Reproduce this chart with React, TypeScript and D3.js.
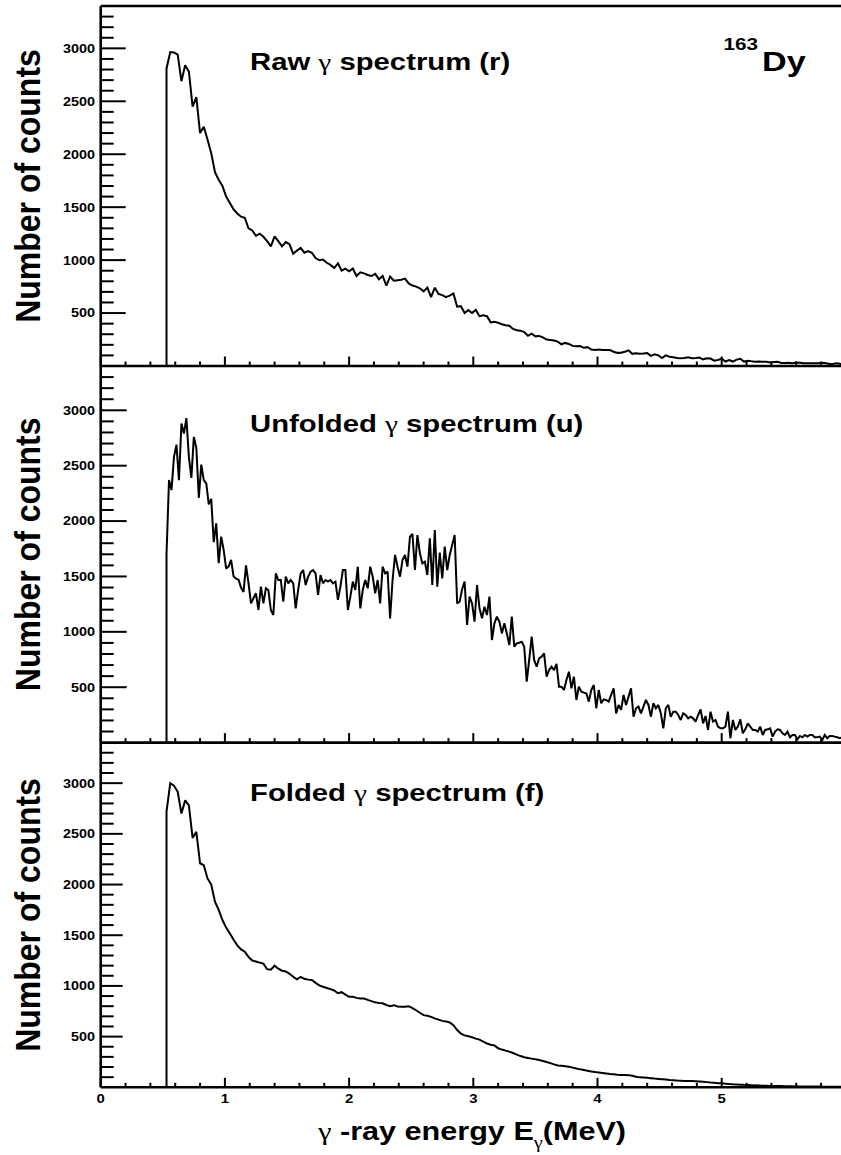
import React from 'react';
import * as d3 from 'd3';

// Energy axis (MeV) and count axis ranges
const E_DOMAIN: [number, number] = [0, 6];
const COUNT_DOMAIN: [number, number] = [0, 3400];
const X_TICK_LABELS = [0, 1, 2, 3, 4, 5, 6];
const Y_TICK_LABELS = [500, 1000, 1500, 2000, 2500, 3000];

// Raw spectrum: bins of 30 keV starting at 0.53 MeV
const RAW_START = 0.53;
const RAW_STEP = 0.03;
const RAW_COUNTS = [
  2810, 2965, 2960, 2940, 2690, 2840, 2780, 2450, 2540, 2200, // 0.53
  2260, 2140, 2010, 1830, 1760, 1700, 1600, 1540, 1480, 1440, // 0.83
  1410, 1400, 1300, 1280, 1230, 1250, 1220, 1180, 1130, 1225, // 1.13
  1180, 1130, 1170, 1150, 1060, 1090, 1115, 1070, 1085, 1070, // 1.43
  1020, 1000, 1005, 975, 955, 925, 970, 900, 920, 895, // 1.73
  920, 850, 885, 875, 860, 850, 870, 820, 850, 760, // 2.03
  845, 805, 810, 815, 825, 780, 760, 750, 734, 705, // 2.33
  740, 650, 740, 680, 670, 650, 665, 685, 560, 565, // 2.63
  500, 528, 500, 530, 470, 478, 470, 412, 418, 408, // 2.93
  395, 385, 380, 350, 338, 334, 320, 285, 305, 280, // 3.23
  284, 270, 250, 246, 240, 230, 205, 218, 208, 190, // 3.53
  186, 189, 172, 178, 155, 152, 155, 151, 150, 150, // 3.83
  135, 124, 125, 135, 148, 115, 120, 116, 118, 122, // 4.13
  96, 110, 100, 75, 100, 88, 82, 76, 74, 75, // 4.43
  82, 74, 76, 80, 63, 72, 70, 50, 57, 70, // 4.73
  42, 55, 42, 60, 68, 42, 50, 44, 41, 42, // 5.03
  40, 41, 33, 38, 40, 28, 28, 31, 26, 33, // 5.33
  30, 25, 25, 25, 25, 27, 30, 25, 20, 22, // 5.63
  25, 18, 16, // 5.93
];

// Unfolded spectrum: bins of 20 keV starting at 0.53 MeV
const UNFOLDED_START = 0.53;
const UNFOLDED_STEP = 0.02;
const UNFOLDED_COUNTS = [
  1700, 2370, 2280, 2580, 2690, 2370, 2880, 2790, 2930, 2580, // 0.53
  2390, 2760, 2660, 2210, 2510, 2370, 2340, 2150, 2200, 1810, // 0.73
  1980, 1620, 1860, 1740, 1570, 1590, 1650, 1500, 1480, 1470, // 0.93
  1400, 1360, 1600, 1440, 1257, 1303, 1348, 1197, 1408, 1257, // 1.13
  1393, 1378, 1197, 1152, 1528, 1468, 1468, 1272, 1498, 1438, // 1.33
  1468, 1438, 1212, 1378, 1528, 1558, 1423, 1498, 1543, 1558, // 1.53
  1528, 1333, 1513, 1438, 1468, 1453, 1468, 1438, 1453, 1288, // 1.73
  1408, 1558, 1558, 1197, 1318, 1453, 1378, 1588, 1212, 1378, // 1.93
  1468, 1393, 1588, 1498, 1348, 1468, 1257, 1588, 1528, 1543, // 2.13
  1122, 1468, 1694, 1588, 1498, 1649, 1694, 1588, 1859, 1883, // 2.33
  1558, 1874, 1709, 1618, 1633, 1513, 1844, 1423, 1919, 1408, // 2.53
  1715, 1483, 1769, 1558, 1694, 1784, 1874, 1257, 1272, 1384, // 2.73
  1453, 1062, 1318, 1257, 1092, 1423, 1212, 1122, 1227, 1152, // 2.93
  1318, 926, 1077, 1137, 1092, 986, 1077, 986, 881, 1137, // 3.13
  866, 896, 902, 911, 866, 550, 746, 956, 746, 685, // 3.33
  761, 776, 806, 595, 655, 685, 655, 710, 505, 505, // 3.53
  475, 565, 640, 490, 595, 385, 505, 460, 451, 445, // 3.73
  370, 475, 520, 310, 475, 355, 390, 385, 370, 430, // 3.93
  490, 264, 340, 295, 430, 340, 415, 490, 234, 310, // 4.13
  325, 264, 325, 385, 340, 234, 355, 310, 340, 264, // 4.33
  129, 310, 340, 234, 279, 279, 249, 204, 264, 249, // 4.53
  219, 234, 219, 189, 249, 300, 174, 240, 114, 279, // 4.73
  189, 204, 144, 129, 129, 144, 279, 39, 204, 114, // 4.93
  144, 210, 84, 120, 174, 144, 114, 114, 99, 144, // 5.13
  69, 114, 120, 129, 54, 99, 120, 114, 84, 69, // 5.33
  99, 48, 69, 69, 30, 60, 48, 69, 54, 69, // 5.53
  69, 48, 48, 54, 24, 69, 39, 60, 60, 54, // 5.73
  48, 39, 48, 45, // 5.93
];

// Folded spectrum: bins of 30 keV starting at 0.53 MeV
const FOLDED_START = 0.53;
const FOLDED_STEP = 0.03;
const FOLDED_COUNTS = [
  2720, 3000, 2975, 2915, 2700, 2830, 2780, 2460, 2520, 2210, // 0.53
  2190, 2060, 2000, 1830, 1750, 1650, 1575, 1518, 1455, 1400, // 0.83
  1360, 1337, 1286, 1250, 1240, 1230, 1220, 1165, 1160, 1200, // 1.13
  1170, 1150, 1142, 1120, 1090, 1065, 1088, 1070, 1062, 1058, // 1.43
  1030, 1005, 992, 980, 968, 955, 928, 938, 915, 892, // 1.73
  892, 882, 876, 876, 862, 850, 838, 831, 828, 812, // 2.03
  800, 810, 797, 794, 794, 800, 782, 760, 735, 712, // 2.33
  705, 695, 680, 668, 655, 650, 640, 613, 565, 530, // 2.63
  512, 503, 494, 480, 470, 450, 432, 420, 412, 385, // 2.93
  372, 362, 352, 338, 322, 308, 296, 290, 283, 276, // 3.23
  270, 260, 250, 238, 226, 216, 212, 207, 202, 194, // 3.53
  185, 177, 170, 163, 156, 150, 146, 141, 136, 131, // 3.83
  128, 124, 121, 121, 120, 113, 105, 98, 96, 93, // 4.13
  90, 86, 83, 80, 77, 73, 70, 67, 65, 63, // 4.43
  62, 61, 60, 58, 55, 51, 47, 44, 41, 39, // 4.73
  36, 32, 29, 28, 26, 24, 23, 21, 19, 18, // 5.03
  16, 15, 14, 13, 12, 12, 11, 10, 10, 9, // 5.33
  9, 8, 8, 7, 7, 7, 6, 6, 6, 5, // 5.63
  5, 5, 5, // 5.93
];

const PANEL_TITLES = ['Raw', 'Unfolded', 'Folded'];
const PANEL_TAGS = ['(r)', '(u)', '(f)'];

const SANS = '"Liberation Sans", Arial, Helvetica, sans-serif';
const SERIF = '"Liberation Serif", "Times New Roman", serif';
const STRETCH = 1.22;

type Layout = { top: number; bottom: number; majorLen: number; titleY: number };

const LAYOUT: Layout[] = [
  { top: 6, bottom: 366, majorLen: 25, titleY: 70 },
  { top: 366, bottom: 742.6, majorLen: 26, titleY: 432 },
  { top: 742.6, bottom: 1087.3, majorLen: 22, titleY: 801 },
];

const SERIES = [
  { start: RAW_START, step: RAW_STEP, counts: RAW_COUNTS },
  { start: UNFOLDED_START, step: UNFOLDED_STEP, counts: UNFOLDED_COUNTS },
  { start: FOLDED_START, step: FOLDED_STEP, counts: FOLDED_COUNTS },
];

const x = d3.scaleLinear().domain(E_DOMAIN).range([100.7, 845.9]);

const Stretched: React.FC<{
  x: number;
  y: number;
  sx?: number;
  anchor?: 'start' | 'middle' | 'end';
  size: number;
  children: React.ReactNode;
}> = ({ x: tx, y: ty, sx = STRETCH, anchor = 'start', size, children }) => (
  <g transform={`translate(${tx},${ty}) scale(${sx},1)`}>
    <text x={0} y={0} textAnchor={anchor} fontFamily={SANS} fontWeight="bold" fontSize={size} fill="#000">
      {children}
    </text>
  </g>
);

const Panel: React.FC<{ index: number }> = ({ index }) => {
  const lay = LAYOUT[index];
  const s = SERIES[index];
  const y = d3.scaleLinear().domain(COUNT_DOMAIN).range([lay.bottom, lay.top]);

  const pts: [number, number][] = [[s.start, 0]];
  s.counts.forEach((c, i) => pts.push([s.start + i * s.step, c]));
  const line = d3
    .line<[number, number]>()
    .x((d) => x(d[0]))
    .y((d) => y(d[1]));

  const minorY = d3.range(100, COUNT_DOMAIN[1], 100).filter((v) => v % 500 !== 0);
  const xTicks = d3.range(0, 30.5, 1).map((k) => k * 0.2);
  const x0 = x(E_DOMAIN[0]);

  return (
    <g>
      {/* y ticks */}
      {minorY.map((v) => (
        <line key={`m${v}`} x1={x0} x2={x0 + 13} y1={y(v)} y2={y(v)} stroke="#000" strokeWidth={2} />
      ))}
      {Y_TICK_LABELS.map((v) => (
        <line key={`M${v}`} x1={x0} x2={x0 + lay.majorLen} y1={y(v)} y2={y(v)} stroke="#000" strokeWidth={2} />
      ))}
      {Y_TICK_LABELS.map((v) => (
        <Stretched key={`l${v}`} x={95} y={y(v) + 4.4} anchor="end" size={12} sx={1.2}>
          {v}
        </Stretched>
      ))}
      {/* x ticks along the panel's bottom axis */}
      {xTicks.map((e, i) => {
        const major = i % 5 === 0;
        return (
          <line
            key={`x${i}`}
            x1={x(e)}
            x2={x(e)}
            y1={lay.bottom}
            y2={lay.bottom - (major ? 9.5 : 4.5)}
            stroke="#000"
            strokeWidth={2}
          />
        );
      })}
      {/* spectrum */}
      <path d={line(pts) ?? ''} fill="none" stroke="#000" strokeWidth={2} strokeLinejoin="miter" strokeMiterlimit={2} />
      {/* bottom axis line */}
      <line x1={x0} x2={x(E_DOMAIN[1])} y1={lay.bottom} y2={lay.bottom} stroke="#000" strokeWidth={2.6} />
      {/* panel title */}
      <Stretched x={250} y={lay.titleY} size={24}>
        {PANEL_TITLES[index]}{' '}
        <tspan fontFamily={SERIF} fontWeight="normal">γ</tspan> spectrum {PANEL_TAGS[index]}
      </Stretched>
      {/* y axis title */}
      <g transform={`translate(40,${(lay.top + lay.bottom) / 2}) scale(1.08,1) rotate(-90)`}>
        <text x={0} y={0} textAnchor="middle" fontFamily={SANS} fontWeight="bold" fontSize={32} fill="#000">
          Number of counts
        </text>
      </g>
    </g>
  );
};

export default function App() {
  const bottom = LAYOUT[2].bottom;
  return (
    <svg
      width={841}
      height={1155}
      viewBox="0 0 841 1155"
      style={{ position: 'absolute', left: 0, top: 0, background: '#fff' }}
    >
      <rect x={0} y={0} width={841} height={1155} fill="#fff" />
      {LAYOUT.map((_, i) => (
        <Panel key={i} index={i} />
      ))}
      {/* frame */}
      <line x1={x(0)} x2={x(0)} y1={LAYOUT[0].top} y2={bottom} stroke="#000" strokeWidth={2.6} />
      <line x1={x(0)} x2={x(6)} y1={LAYOUT[0].top} y2={LAYOUT[0].top} stroke="#000" strokeWidth={2.6} />
      <line x1={x(6)} x2={x(6)} y1={LAYOUT[0].top} y2={bottom} stroke="#000" strokeWidth={2.6} />
      {/* x tick labels */}
      {X_TICK_LABELS.map((e) => (
        <Stretched key={e} x={x(e)} y={1102.5} anchor="middle" size={13} sx={1.15}>
          {e}
        </Stretched>
      ))}
      {/* x axis title */}
      <Stretched x={472} y={1140} anchor="middle" size={25.5} sx={1.2}>
        <tspan fontFamily={SERIF} fontWeight="normal">γ</tspan> -ray energy E
        <tspan fontFamily={SERIF} fontWeight="normal" fontSize={17} dy={8}>γ</tspan>
        <tspan dy={-8}>(MeV)</tspan>
      </Stretched>
      {/* nucleus label */}
      <Stretched x={758} y={49.5} anchor="end" size={17}>
        163
      </Stretched>
      <Stretched x={762} y={70.7} size={28}>
        Dy
      </Stretched>
    </svg>
  );
}
